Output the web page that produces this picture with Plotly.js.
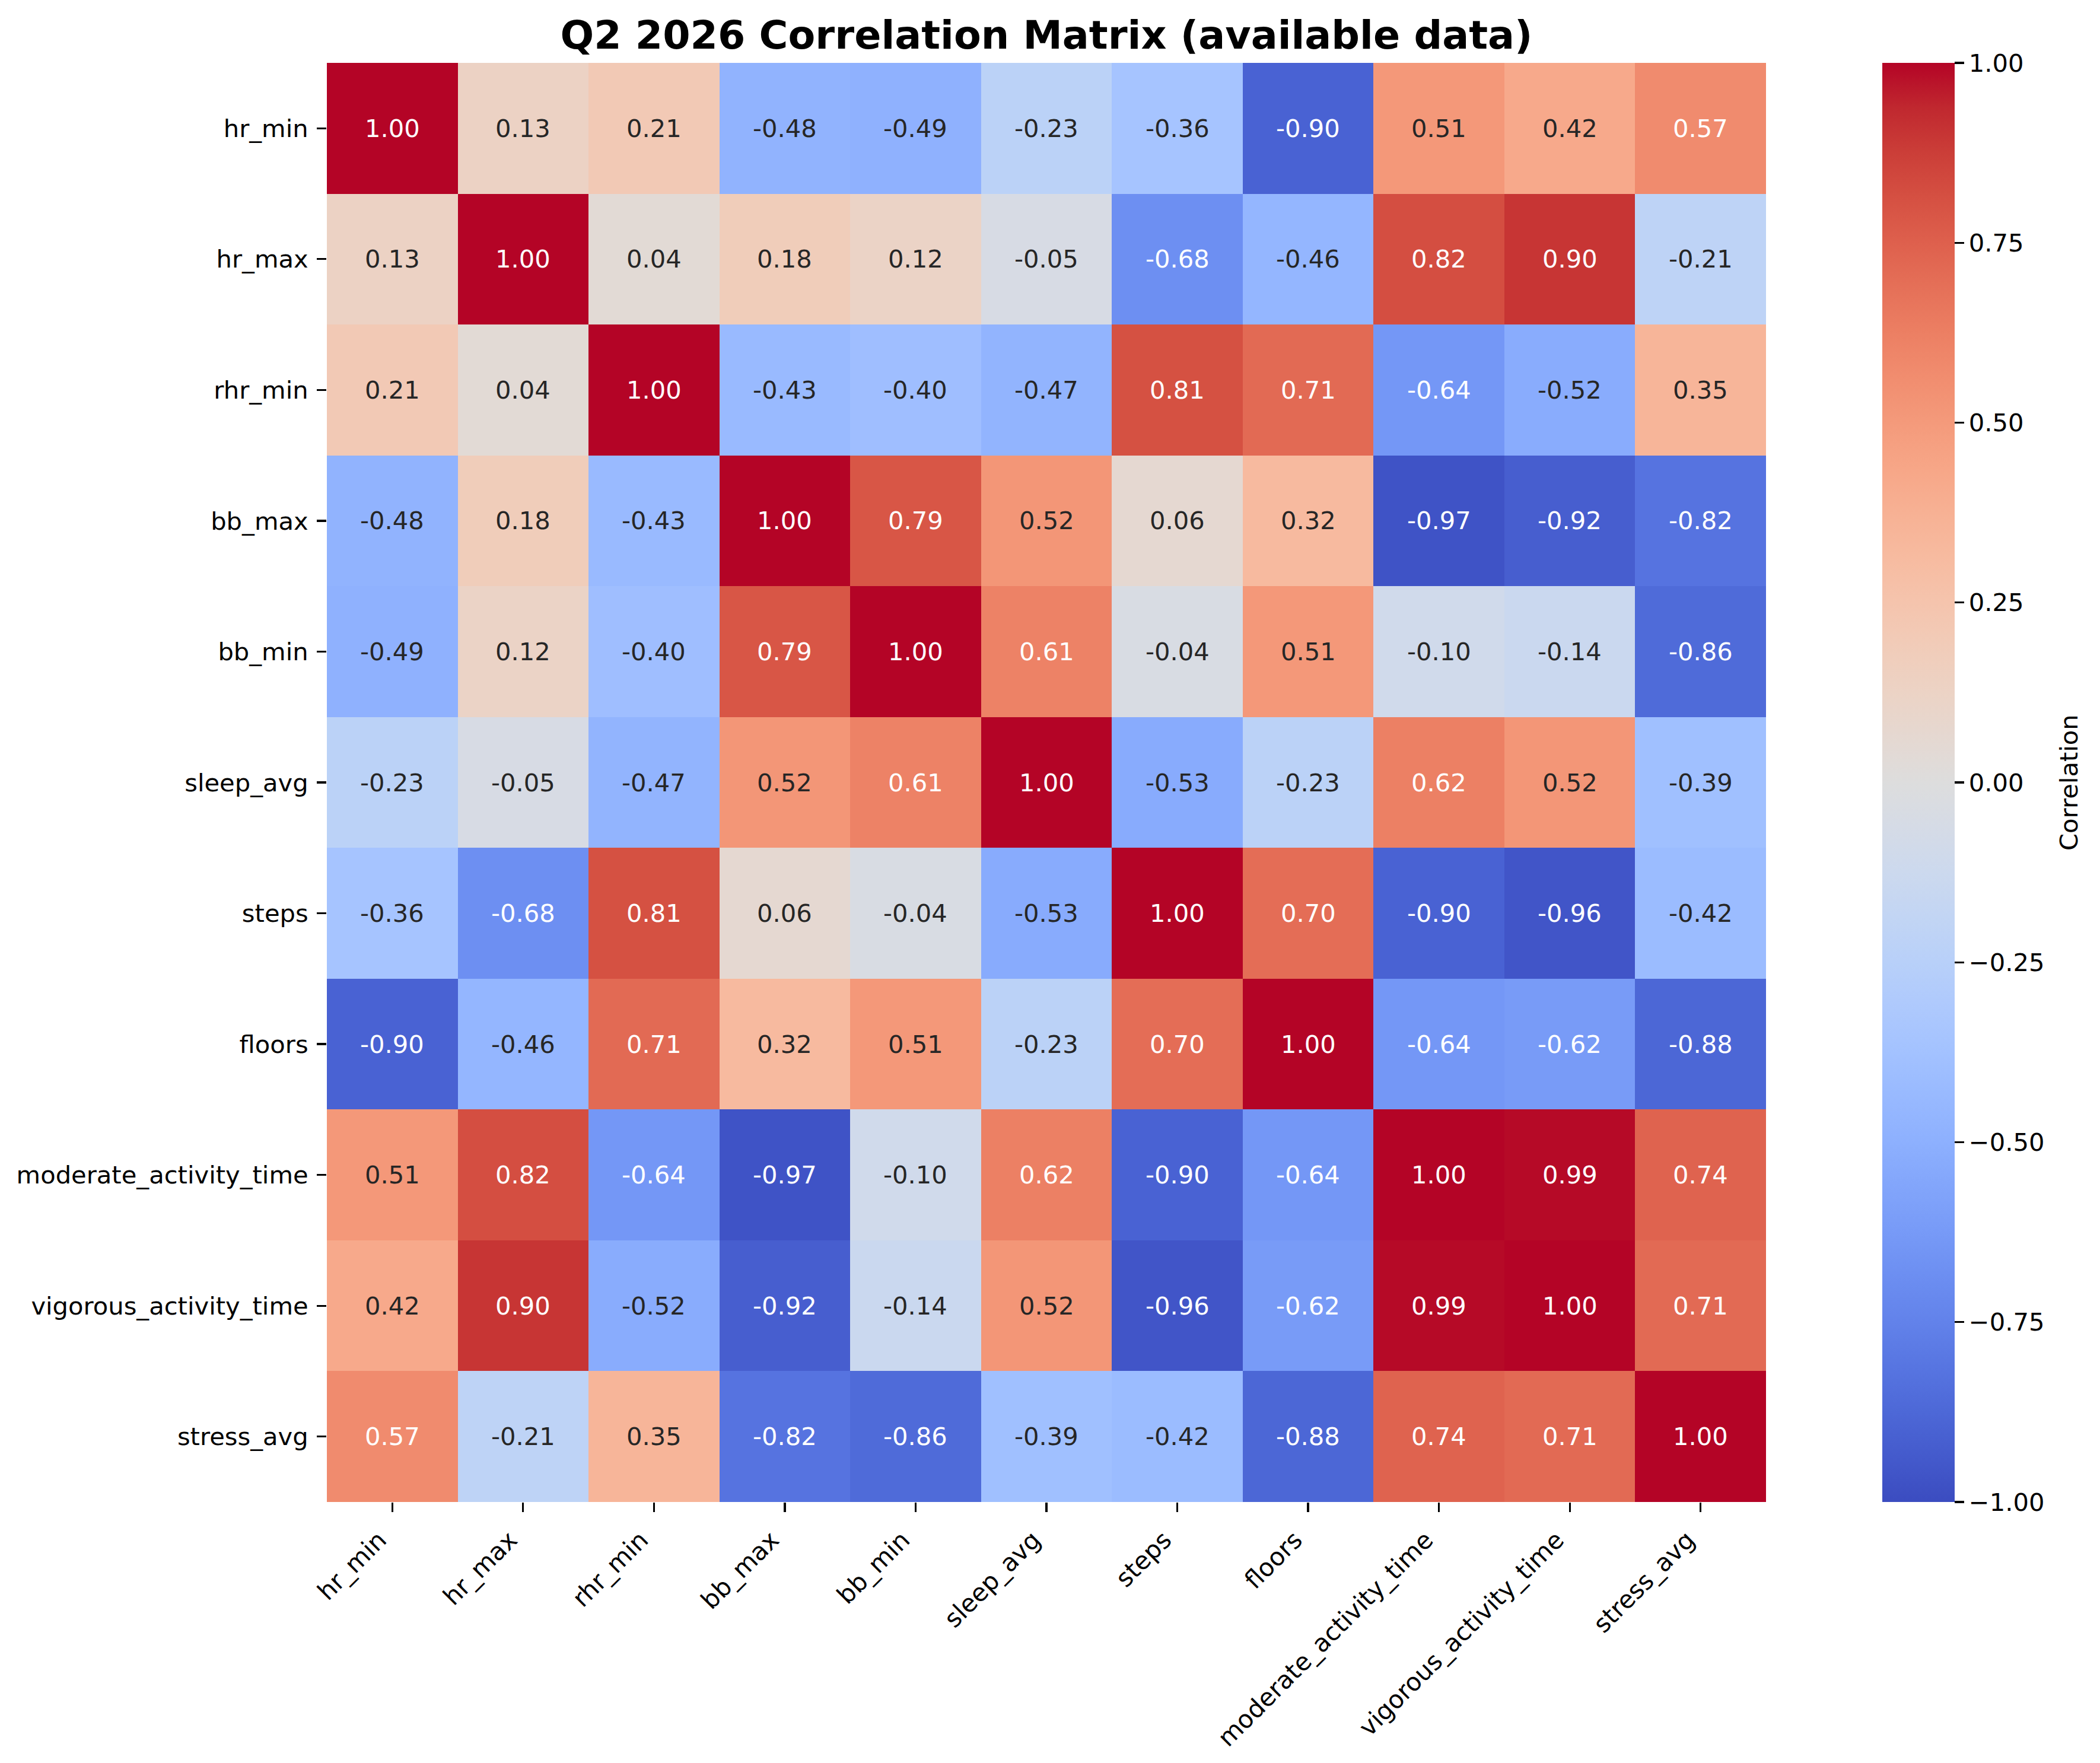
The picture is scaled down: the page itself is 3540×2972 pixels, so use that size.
<!DOCTYPE html>
<html>
<head>
<meta charset="utf-8">
<script src="https://cdn.plot.ly/plotly-3.0.1.min.js"></script>
<style>
  html, body { margin: 0; padding: 0; background: #ffffff; }
  #chart { width: 3540px; height: 2972px; }
</style>
</head>
<body>
<div id="chart"></div>
<script>
// Metric names (matrix rows and columns, same order)
const metrics = [
  "hr_min", "hr_max", "rhr_min", "bb_max", "bb_min", "sleep_avg",
  "steps", "floors", "moderate_activity_time", "vigorous_activity_time", "stress_avg"
];

// Pairwise correlations, one row per metric
const rowHrMin     = [ 1.00,  0.13,  0.21, -0.48, -0.49, -0.23, -0.36, -0.90,  0.51,  0.42,  0.57];
const rowHrMax     = [ 0.13,  1.00,  0.04,  0.18,  0.12, -0.05, -0.68, -0.46,  0.82,  0.90, -0.21];
const rowRhrMin    = [ 0.21,  0.04,  1.00, -0.43, -0.40, -0.47,  0.81,  0.71, -0.64, -0.52,  0.35];
const rowBbMax     = [-0.48,  0.18, -0.43,  1.00,  0.79,  0.52,  0.06,  0.32, -0.97, -0.92, -0.82];
const rowBbMin     = [-0.49,  0.12, -0.40,  0.79,  1.00,  0.61, -0.04,  0.51, -0.10, -0.14, -0.86];
const rowSleepAvg  = [-0.23, -0.05, -0.47,  0.52,  0.61,  1.00, -0.53, -0.23,  0.62,  0.52, -0.39];
const rowSteps     = [-0.36, -0.68,  0.81,  0.06, -0.04, -0.53,  1.00,  0.70, -0.90, -0.96, -0.42];
const rowFloors    = [-0.90, -0.46,  0.71,  0.32,  0.51, -0.23,  0.70,  1.00, -0.64, -0.62, -0.88];
const rowModerate  = [ 0.51,  0.82, -0.64, -0.97, -0.10,  0.62, -0.90, -0.64,  1.00,  0.99,  0.74];
const rowVigorous  = [ 0.42,  0.90, -0.52, -0.92, -0.14,  0.52, -0.96, -0.62,  0.99,  1.00,  0.71];
const rowStressAvg = [ 0.57, -0.21,  0.35, -0.82, -0.86, -0.39, -0.42, -0.88,  0.74,  0.71,  1.00];

const corr = [rowHrMin, rowHrMax, rowRhrMin, rowBbMax, rowBbMin, rowSleepAvg,
              rowSteps, rowFloors, rowModerate, rowVigorous, rowStressAvg];

// Colorbar tick values
const cbTicks = [-1.00, -0.75, -0.50, -0.25, 0.00, 0.25, 0.50, 0.75, 1.00];

// Diverging "coolwarm" map: 33 evenly spaced anchors
const cwR = [0.2298057,0.26623388,0.30386891,0.342804478,0.38301334,0.424369608,0.46666708,0.509635204,0.552953156,0.596262162,0.639176211,0.681291281,0.722193294,0.761464949,0.798691636,0.833466556,0.865395197,0.897787179,0.924127593,0.944468518,0.958852946,0.96732803,0.969954137,0.966811177,0.958003065,0.943660866,0.923944917,0.89904617,0.869186849,0.834620542,0.795631745,0.752534934,0.705673158];
const cwG = [0.298717966,0.353094838,0.406535296,0.458757618,0.50941904,0.558148092,0.604562568,0.648280772,0.688929332,0.726149107,0.759599947,0.788964712,0.813952739,0.834302879,0.849786142,0.860207984,0.86541021,0.848937047,0.827384882,0.800927443,0.769767752,0.734132809,0.694266682,0.650421156,0.602842431,0.551750968,0.49730856,0.439559467,0.378313092,0.312874446,0.24128379,0.157246067,0.01555616];
const cwB = [0.753683153,0.801466763,0.84495867,0.883725899,0.917387822,0.945619588,0.968154911,0.98478814,0.995375608,0.999836203,0.998151185,0.990363227,0.976574709,0.956945269,0.931688648,0.901068838,0.865395561,0.820880546,0.774508472,0.726736146,0.678007945,0.628751763,0.579375448,0.530263762,0.481775914,0.434243684,0.387970225,0.343229596,0.300267182,0.259301199,0.220525627,0.184115123,0.150232812];

function cwAt(t) {
  const n = cwR.length - 1;
  const p = Math.max(0, Math.min(1, t)) * n;
  const i = Math.min(n - 1, Math.floor(p));
  const f = p - i;
  return [
    cwR[i] + (cwR[i + 1] - cwR[i]) * f,
    cwG[i] + (cwG[i + 1] - cwG[i]) * f,
    cwB[i] + (cwB[i + 1] - cwB[i]) * f
  ];
}
const toCss = c => 'rgb(' + c.map(v => Math.round(v * 255)).join(',') + ')';

const colorscale = cwR.map((_, i) => {
  const t = i / (cwR.length - 1);
  return [t, toCss([cwR[i], cwG[i], cwB[i]])];
});

// Annotation colour: light text on dark cells, dark text on light cells
function cellTextColor(v) {
  const idx = Math.min(255, Math.max(0, Math.floor((v + 1) / 2 * 256)));
  const rgb = cwAt(idx / 255).map(c => c <= 0.03928 ? c / 12.92 : Math.pow((c + 0.055) / 1.055, 2.4));
  const lum = 0.2126 * rgb[0] + 0.7152 * rgb[1] + 0.0722 * rgb[2];
  return lum > 0.408 ? '#262626' : '#ffffff';
}

const FONT = 'DejaVu Sans, Liberation Sans, sans-serif';
const FS = 41.67;

const W = 3540, H = 2972;
const plotL = 551, plotR = 2977, plotT = 106, plotB = 2532;
const cbLeft = 3173;
const cbLabelX = 3487;

const annotations = [];
corr.forEach((row, r) => {
  row.forEach((v, c) => {
    annotations.push({
      x: metrics[c], y: metrics[r], xref: 'x', yref: 'y',
      text: v.toFixed(2), showarrow: false,
      font: { family: FONT, size: FS, color: cellTextColor(v) }
    });
  });
});

// Colorbar label, rotated along the bar
annotations.push({
  x: (cbLabelX - plotL) / (plotR - plotL), xref: 'paper', xanchor: 'center',
  y: 0.5, yref: 'paper', yanchor: 'middle',
  text: 'Correlation', textangle: -90, showarrow: false,
  font: { family: FONT, size: FS, color: '#000000' }
});

const trace = {
  type: 'heatmap',
  x: metrics,
  y: metrics,
  z: corr,
  zmin: -1, zmax: 1,
  colorscale: colorscale,
  hoverinfo: 'skip',
  colorbar: {
    x: (cbLeft - plotL) / (plotR - plotL), xanchor: 'left', xref: 'paper',
    y: 0.5, yanchor: 'middle',
    len: 1, lenmode: 'fraction',
    thickness: 122, thicknessmode: 'pixels',
    xpad: 0, ypad: 0,
    outlinewidth: 0,
    tickmode: 'array', tickvals: cbTicks,
    ticktext: cbTicks.map(v => (v < 0 ? '\u2212' : '') + Math.abs(v).toFixed(2)),
    ticks: 'outside', ticklen: 16, tickwidth: 3.3, tickcolor: '#000000',
    tickfont: { family: FONT, size: FS, color: '#000000' }
  }
};

const layout = {
  width: W, height: H,
  paper_bgcolor: '#ffffff', plot_bgcolor: '#ffffff',
  margin: { l: plotL, r: W - plotR, t: plotT, b: H - plotB, pad: 0 },
  font: { family: FONT, size: FS, color: '#000000' },
  title: {
    text: '<b>Q2 2026 Correlation Matrix (available data)</b>',
    font: { family: FONT, size: 66.7, color: '#000000' },
    x: 0.5, xref: 'paper', xanchor: 'center',
    y: 1 - 59 / H, yref: 'container', yanchor: 'middle'
  },
  xaxis: {
    type: 'category', showgrid: false, zeroline: false, showline: false,
    ticks: 'outside', ticklen: 16, tickwidth: 3.3, tickcolor: '#000000',
    tickangle: -45, ticklabelstandoff: 6, ticklabelshift: -22,
    tickfont: { family: FONT, size: FS, color: '#000000' }
  },
  yaxis: {
    type: 'category', autorange: 'reversed', showgrid: false, zeroline: false, showline: false,
    ticks: 'outside', ticklen: 16, tickwidth: 3.3, tickcolor: '#000000',
    ticklabelstandoff: 6,
    tickfont: { family: FONT, size: FS, color: '#000000' }
  },
  annotations: annotations,
  showlegend: false
};

Plotly.newPlot('chart', [trace], layout, { displayModeBar: false, staticPlot: true });
</script>
</body>
</html>
